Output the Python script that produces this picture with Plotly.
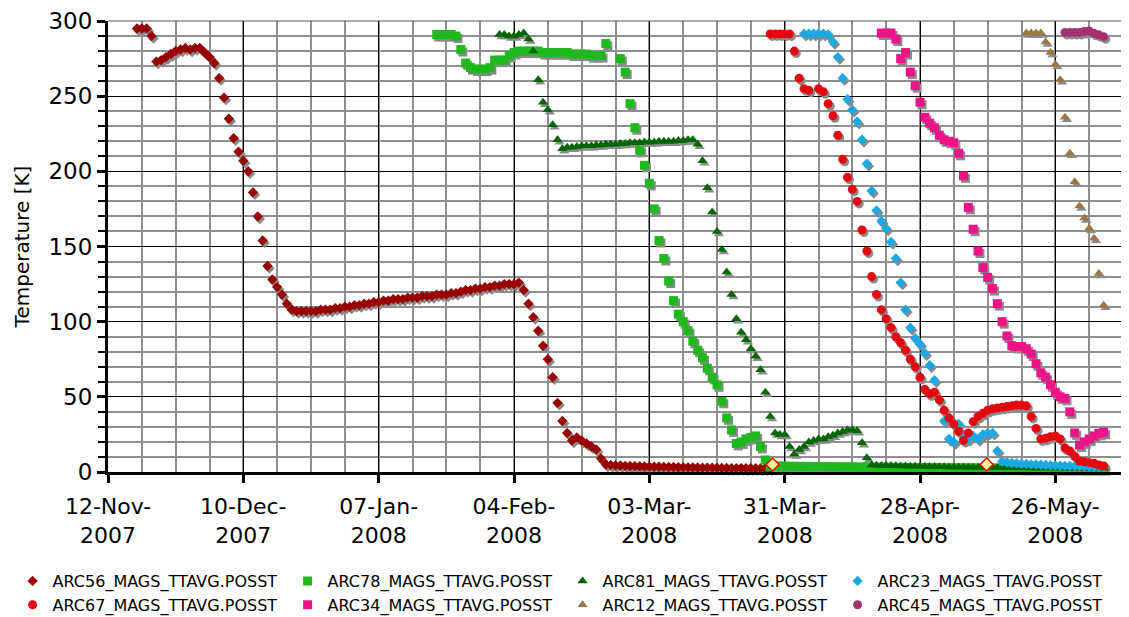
import plotly.graph_objects as go
import pandas as pd

# ---------------- data ----------------
tick_dates = ["2007-11-12", "2007-12-10", "2008-01-07", "2008-02-04",
              "2008-03-03", "2008-03-31", "2008-04-28", "2008-05-26"]
tick_labels = ["12-Nov-<br>2007", "10-Dec-<br>2007", "07-Jan-<br>2008", "04-Feb-<br>2008",
               "03-Mar-<br>2008", "31-Mar-<br>2008", "28-Apr-<br>2008", "26-May-<br>2008"]

series_names = ["ARC56_MAGS_TTAVG.POSST", "ARC78_MAGS_TTAVG.POSST",
                "ARC81_MAGS_TTAVG.POSST", "ARC23_MAGS_TTAVG.POSST",
                "ARC67_MAGS_TTAVG.POSST", "ARC34_MAGS_TTAVG.POSST",
                "ARC12_MAGS_TTAVG.POSST", "ARC45_MAGS_TTAVG.POSST"]

# first day of each daily series
series_start = ["2007-11-18", "2008-01-19", "2008-02-01", "2008-04-04",
                "2008-03-28", "2008-04-20", "2008-05-20", "2008-05-28"]

arc56 = [295, 295, 295, 290, 273, 274, 276, 278, 280, 281,
         282, 281, 282, 282, 279, 276, 272, 262, 249, 235,
         222, 213, 207, 200, 186, 170, 154, 137, 128, 123,
         118, 112, 108, 107, 107, 107, 107, 107, 108, 108,
         108, 109, 109, 110, 110, 111, 111, 112, 112, 113,
         113, 114, 114, 115, 115, 115, 116, 116, 116, 117,
         117, 117, 118, 118, 118, 119, 119, 120, 121, 121,
         122, 122, 123, 123, 124, 124, 125, 125, 125, 126,
         121, 112, 103, 94, 84, 75, 63, 46, 34, 26,
         21, 23, 21, 19, 17, 15, 9, 5,
         4.6, 4.4, 4.3, 4.1, 4.0, 3.9, 3.8, 3.7, 3.6, 3.5,
         3.5, 3.4, 3.3, 3.3, 3.2, 3.1, 3.1, 3.0, 3.0, 2.9,
         2.9, 2.8, 2.8, 2.7, 2.7, 2.6, 2.6, 2.6, 2.5, 2.5,
         2.5, 2.4, 2.4, 2.4]

arc78 = [291, 291, 291, 291, 290, 281, 272, 269, 268, 268,
         268, 269, 274, 274, 274, 277, 279, 280, 280, 280,
         280, 280, 279, 279, 279, 279, 279, 279, 278, 278,
         278, 278, 277, 277, 277, 285, None, None, 275, 266,
         245, 229, 214, 204, 192, 175, 154, 142, 127, 114,
         105, 100, 94, 87, 81, 76, 69, 63, 58, 47,
         36, 28, 19, 20, 22, 23, 24, 17, 8, 3.5,
         4.0, 3.9, 3.9, 3.8, 3.8, 3.7, 3.7, 3.7, 3.6, 3.6,
         3.6, 3.5, 3.5, 3.5, 3.4, 3.4, 3.4, 3.3, 3.3, 3.3,
         3.2, 3.2, 3.2, 3.2, 3.1, 3.1, 3.1, 3.0, 3.0, 3.0,
         3.0, 2.9, 2.9, 2.9, 2.9, 2.8, 2.8, 2.8, 2.8, 2.8,
         2.7, 2.7, 2.7, 2.7, 2.7, 2.6, 2.6, 2.6, 2.6, 2.6,
         2.6, 2.5, 2.5, 2.5, 2.5, 2.5, 2.5, 2.4, 2.4, 2.4,
         2.4, 2.4, 2.4, 2.4, 2.3, 2.3, 2.3, 2.3, 2.3]

arc81 = [291, 291, 290, 290, 291, 292, 288, 280, 261, 246,
         241, 231, 221, 215, 216, 216, 216.5, 217, 217, 217,
         217.5, 217.5, 218, 218, 218, 218.5, 218.5, 219, 219, 219,
         219.5, 219.5, 219.5, 220, 220, 220, 220, 220.5, 220.5, 221,
         221, 218, 207, 189, 173, 160, 148, 133, 118, 102,
         93, 88, 82, 77, 68, 53, 37, 26, 25, 25,
         17, 12, 15, 17, 20, 21, 22, 22, 23.5, 24.5,
         26, 27, 28, 28, 27.5, 19.5, 9.5,
         4.6, 4.5, 4.4, 4.3, 4.2, 4.1, 4.0, 4.0, 3.9, 3.8,
         3.8, 3.7, 3.6, 3.6, 3.5, 3.5, 3.4, 3.4, 3.3, 3.3,
         3.2, 3.2, 3.1, 3.1, 3.0, 3.0, 3.0, 2.9, 2.9, 2.9,
         2.8, 2.8, 2.8, 2.7, 2.7, 2.7, 2.6, 2.6, 2.6, 2.6,
         2.5, 2.5, 2.5, 2.5, 2.4, 2.4, 2.4, 2.4, 2.3]

arc23 = [291.5, 291.5, 291.5, 291.5, 291.5, 291, 286, 276, 262, 248,
         241, 233, 221, 205, 187, 174, 167, 162, 153, 142,
         126, 108, 96, 89, 85, 79, 71, 61, None, 34,
         22, 20, 32, 25, 22, 24, 22, 25, 26, 26,
         14, 7,
         6.5, 6.0, 5.8, 5.5, 5.3, 5.1, 5.0, 4.8, 4.7, 4.5,
         4.4, 4.2, 4.1, 4.0, 3.9, 3.8, 3.7, 3.6, 3.5, 3.4, 3.3]

arc67 = [291.4, 291.4, 291.4, 291.4, 291.4, 280, 262, 255, 254, None,
         255, 253, 245, 237, 224, 208, 196, 188, 180, 161,
         147, 130, 118, 108, 102, 96, 90, 86, 81, 75,
         70, 63, 55, 52, 53, 48, 41, 36, 32, 27,
         21, 26, 33.5, 37, 39, 41, 42, 42.5, 43, 43.5,
         44, 44.5, 44.5, 44, 37, 29, 22, 22.5, 23.5, 24,
         22, 16, 14, 10.5, 7.3, 6.9, 6.2, 5.8, 4.7, 4]

arc34 = [292, 292, 292, 288, 275, 279, 266, 257, 246, 236,
         232, 229, 224, 221, 220, 219, 212, 197, 176, 161.5,
         147, 136, 129.5, 122, 112, 100, 90.5, 84, 83.5, 83.5,
         82, 78.5, 72, 66, 63, 58, 53, 50, 49, 40,
         26, 18, 20, 22, 24, 25.7, 26.4]

arc12 = [292, 292, 292, 292, 286, 279, 271, 261, 236, 212,
         193, 177, 169, 162, 155.5, 132, 111]

arc45 = [292.4, 292.4, 292.4, 292.4, 293, 293.4, 291.8, 290.8, 289.6]

series_values = [arc56, arc78, arc81, arc23, arc67, arc34, arc12, arc45]

# highlighted points (yellow diamonds)
flag_dates = ["2008-03-28 12:00", "2008-05-11 19:00"]
flag_values = [5, 5]

# ---------------- styles ----------------
colors = ["#990000", "#1FB91F", "#006600", "#1AA9E3",
          "#E3070F", "#EE1488", "#9A7840", "#A2336C"]
symbols = ["diamond", "square", "triangle-up", "diamond",
           "circle", "square", "triangle-up", "circle"]
sizes = [8, 9, 9, 8, 9, 9, 9, 9]

FONT = "DejaVu Sans"
X0, X1 = "2007-11-12", "2008-06-09"
# the page body adds an 8px margin, so the figure is 8px smaller than the window
FIG_W, FIG_H = 1121, 609
M_L, M_R, M_T, M_B = 100, 6, 13, 145
PX_PER_DAY = (FIG_W - M_L - M_R) / 210.0
PX_PER_K = (FIG_H - M_T - M_B) / 300.0
SHADOW_DX, SHADOW_DY = 2.0, 2.5   # pixels

fig = go.Figure()

# empty trace so that the base subplot (grid, ticks, axes) exists
fig.add_trace(go.Scatter(x=[], y=[], mode="markers", showlegend=False, hoverinfo="skip"))

xs = [pd.date_range(s, periods=len(v), freq="D") for s, v in zip(series_start, series_values)]

# shadows (overlay axes x2/y2 with shifted ranges)
for x, v, sym, sz in zip(xs, series_values, symbols, sizes):
    fig.add_trace(go.Scatter(x=x, y=v, mode="markers", xaxis="x2", yaxis="y2",
                             marker=dict(symbol=sym, size=sz, color="#8a8a8a", line=dict(width=0)),
                             showlegend=False, hoverinfo="skip", cliponaxis=False))

# main series (overlay axes x3/y3, same range as base)
for name, x, v, c, sym, sz in zip(series_names, xs, series_values, colors, symbols, sizes):
    fig.add_trace(go.Scatter(x=x, y=v, mode="markers", name=name, xaxis="x3", yaxis="y3",
                             marker=dict(symbol=sym, size=sz, color=c, line=dict(width=0)),
                             cliponaxis=False))

fig.add_trace(go.Scatter(x=flag_dates, y=flag_values, mode="markers", xaxis="x3", yaxis="y3",
                         marker=dict(symbol="diamond", size=10, color="#FFFF99",
                                     line=dict(width=1.5, color="#FF0000")),
                         showlegend=False, cliponaxis=False))

ms = 86400000.0
x0 = pd.Timestamp(X0)
x1 = pd.Timestamp(X1)
shift = pd.Timedelta(days=SHADOW_DX / PX_PER_DAY)
dy = SHADOW_DY / PX_PER_K

fig.update_layout(
    width=FIG_W, height=FIG_H,
    margin=dict(l=M_L, r=M_R, t=M_T, b=M_B, autoexpand=False),
    paper_bgcolor="white", plot_bgcolor="white",
    font=dict(family=FONT, color="black"),
    xaxis=dict(
        type="date", range=[X0, X1],
        tickmode="array", tickvals=tick_dates, ticktext=tick_labels,
        tickfont=dict(family=FONT, size=22, color="black"),
        ticks="outside", ticklen=8, tickwidth=3, tickcolor="black",
        ticklabelstandoff=5,
        showline=True, linewidth=3, linecolor="black",
        showgrid=True, gridcolor="black", gridwidth=1,
        minor=dict(tick0=X0, dtick=7 * ms, showgrid=True, gridcolor="#8f8f8f",
                   gridwidth=2, ticks=""),
        zeroline=False, fixedrange=True,
    ),
    yaxis=dict(
        range=[0, 300], tickmode="linear", tick0=0, dtick=50,
        tickfont=dict(family=FONT, size=23, color="black"),
        ticks="outside", ticklen=8, tickwidth=3, tickcolor="black",
        showline=True, linewidth=3, linecolor="black",
        showgrid=True, gridcolor="black", gridwidth=1,
        minor=dict(tick0=0, dtick=10, showgrid=True, gridcolor="#8f8f8f", gridwidth=2,
                   ticks="outside", ticklen=7, tickwidth=2, tickcolor="black"),
        title=dict(text="Temperature [K]", font=dict(family=FONT, size=20, color="black"),
                   standoff=14),
        zeroline=False, fixedrange=True,
    ),
    xaxis2=dict(type="date", overlaying="x", anchor="y2", visible=False,
                range=[x0 - shift, x1 - shift], fixedrange=True),
    yaxis2=dict(overlaying="y", anchor="x2", visible=False,
                range=[dy, 300 + dy], fixedrange=True),
    xaxis3=dict(type="date", overlaying="x", anchor="y3", visible=False,
                range=[X0, X1], fixedrange=True),
    yaxis3=dict(overlaying="y", anchor="x3", visible=False,
                range=[0, 300], fixedrange=True),
    legend=dict(orientation="h", x=-0.094, xanchor="left", y=-0.204, yanchor="top",
                font=dict(family=FONT, size=16, color="black"),
                entrywidth=230, entrywidthmode="pixels", tracegroupgap=0,
                itemsizing="trace", bgcolor="rgba(0,0,0,0)"),
    shapes=[
        dict(type="line", xref="paper", yref="paper", x0=1, x1=1, y0=0, y1=1,
             line=dict(color="#8f8f8f", width=2), layer="above"),
        dict(type="line", xref="paper", yref="paper", x0=0, x1=1, y0=1, y1=1,
             line=dict(color="#555555", width=1), layer="above"),
    ],
)

fig.write_html("out.html")
